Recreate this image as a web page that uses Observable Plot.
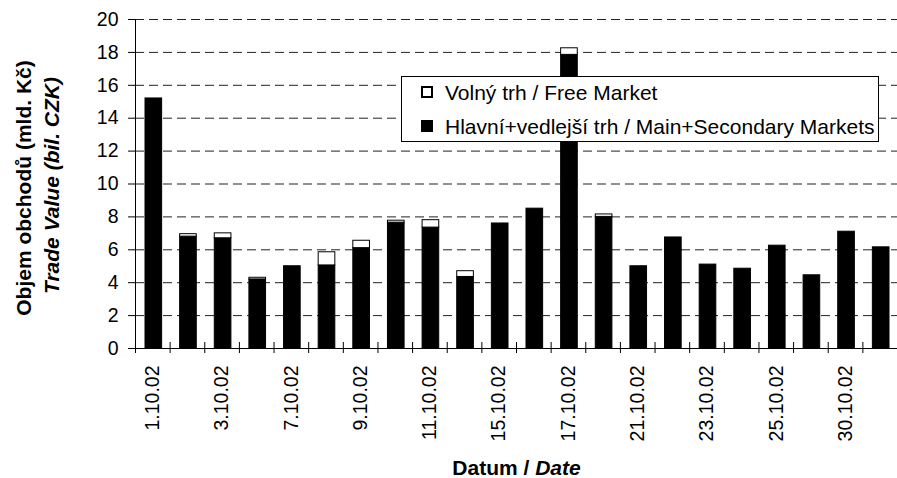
<!DOCTYPE html>
<html><head><meta charset="utf-8">
<script src="https://cdn.jsdelivr.net/npm/d3@7"></script>
<script src="https://cdn.jsdelivr.net/npm/@observablehq/plot@0.6"></script>
<style>
body{margin:0;background:#fff;}
#wrap{position:relative;width:897px;height:478px;font-family:"Liberation Sans",Arial,sans-serif;}
#legend{position:absolute;left:401px;top:76px;width:478px;height:66px;box-sizing:border-box;border:1px solid #000;background:#fff;}
.sw{position:absolute;left:19px;width:12px;height:12px;box-sizing:border-box;border:2px solid #000;}
.lt{position:absolute;left:43px;font-size:21px;line-height:21px;white-space:nowrap;color:#000;}
</style></head><body><div id="wrap"></div>
<script>
const dates = ["1.10.02","2.10.02","3.10.02","4.10.02","7.10.02","8.10.02","9.10.02","10.10.02","11.10.02","14.10.02","15.10.02","16.10.02","17.10.02","18.10.02","21.10.02","22.10.02","23.10.02","24.10.02","25.10.02","29.10.02","30.10.02","31.10.02"];
const mainMarket = [15.2,6.8,6.7,4.2,5.0,5.05,6.1,7.65,7.35,4.35,7.6,8.5,17.85,8.0,5.0,6.75,5.1,4.85,6.25,4.45,7.1,6.15];
const freeMarket = [0,0.15,0.3,0.1,0,0.8,0.45,0.12,0.45,0.35,0,0,0.4,0.15,0,0,0,0,0,0,0,0];
const yTicks = [0,2,4,6,8,10,12,14,16,18,20];
const gridTicks = [2,4,6,8,10,12,14,16,18,20];
const labelIdx = [0,2,4,6,8,10,12,14,16,18,20];
const seriesNames = ["Volný trh / Free Market","Hlavní+vedlejší trh / Main+Secondary Markets"];
const yTitle1 = "Objem obchodů (mld. Kč)";
const yTitle2 = "Trade Value (bil. CZK)";
const xTitleA = "Datum / ";
const xTitleB = "Date";

const rows = dates.map((d,i)=>({i, date:d, main:mainMarket[i], free:freeMarket[i]}));
const fontStack = '"Liberation Sans", Arial, sans-serif';

const chart = Plot.plot({
  width:897, height:478, marginLeft:135, marginRight:0, marginTop:19, marginBottom:130,
  style:{fontFamily:fontStack, fontSize:"19.5px", color:"#000", background:"#fff", overflow:"visible"},
  x:{type:"linear", domain:[0,dates.length], axis:null, label:null},
  y:{domain:[0,20], axis:null, label:null},
  marks:[
    Plot.gridY({ticks:gridTicks, stroke:"#222", strokeOpacity:1, strokeWidth:1, strokeDasharray:"9,5"}),
    Plot.rect(rows, {x1:"i", x2:d=>d.i+1, y1:0, y2:"main", fill:"#000", stroke:"#000", insetLeft:10, insetRight:8}),
    Plot.rect(rows.filter(d=>d.free>0), {x1:"i", x2:d=>d.i+1, y1:"main", y2:d=>d.main+d.free, fill:"#fff", stroke:"#000", insetLeft:10, insetRight:8}),
    Plot.ruleX([0], {stroke:"#000"}),
    Plot.ruleY([0], {stroke:"#000"}),
    Plot.ruleX(d3.range(0, dates.length+1), {y1:0, y2:0, insetTop:-6, insetBottom:-5, stroke:"#000"}),
    Plot.axisY({ticks:yTicks, tickSize:7, tickPadding:10, fontSize:19.5, tickFormat:d=>String(d), label:null}),
    Plot.axisX({ticks:labelIdx.map(i=>i+0.5), tickSize:0, tickPadding:17, tickRotate:-90, tickFormat:v=>dates[Math.floor(v)], fontSize:19.5, label:null}),
    Plot.text([yTitle1], {frameAnchor:"left", textAnchor:"middle", lineAnchor:"middle", rotate:-90, dx:-111, dy:4, fontWeight:"bold", fontSize:21}),
    Plot.text([yTitle2], {frameAnchor:"left", textAnchor:"middle", lineAnchor:"middle", rotate:-90, dx:-83, dy:1.5, fontWeight:"bold", fontStyle:"italic", fontSize:21}),
    Plot.text([xTitleA + xTitleB], {frameAnchor:"bottom", textAnchor:"middle", lineAnchor:"middle", dy:120, fontWeight:"bold", fontSize:21})
  ]
});

d3.select(chart).selectAll("text").filter(function(){return this.textContent === xTitleA + xTitleB;}).each(function(){
  const t = d3.select(this);
  t.text(null);
  t.append("tspan").text(xTitleA);
  t.append("tspan").attr("font-style","italic").text(xTitleB);
});

const wrap = document.getElementById("wrap");
wrap.appendChild(chart);

const legendBox = document.createElement("div");
legendBox.id = "legend";
const swatchFills = ["#fff","#000"];
const rowTops = [9,43];
seriesNames.forEach((name,k)=>{
  const sw = document.createElement("div");
  sw.className = "sw";
  sw.style.top = rowTops[k] + "px";
  sw.style.background = swatchFills[k];
  legendBox.appendChild(sw);
  const lt = document.createElement("div");
  lt.className = "lt";
  lt.style.top = (rowTops[k]-4) + "px";
  lt.textContent = name;
  legendBox.appendChild(lt);
});
wrap.appendChild(legendBox);
</script></body></html>
